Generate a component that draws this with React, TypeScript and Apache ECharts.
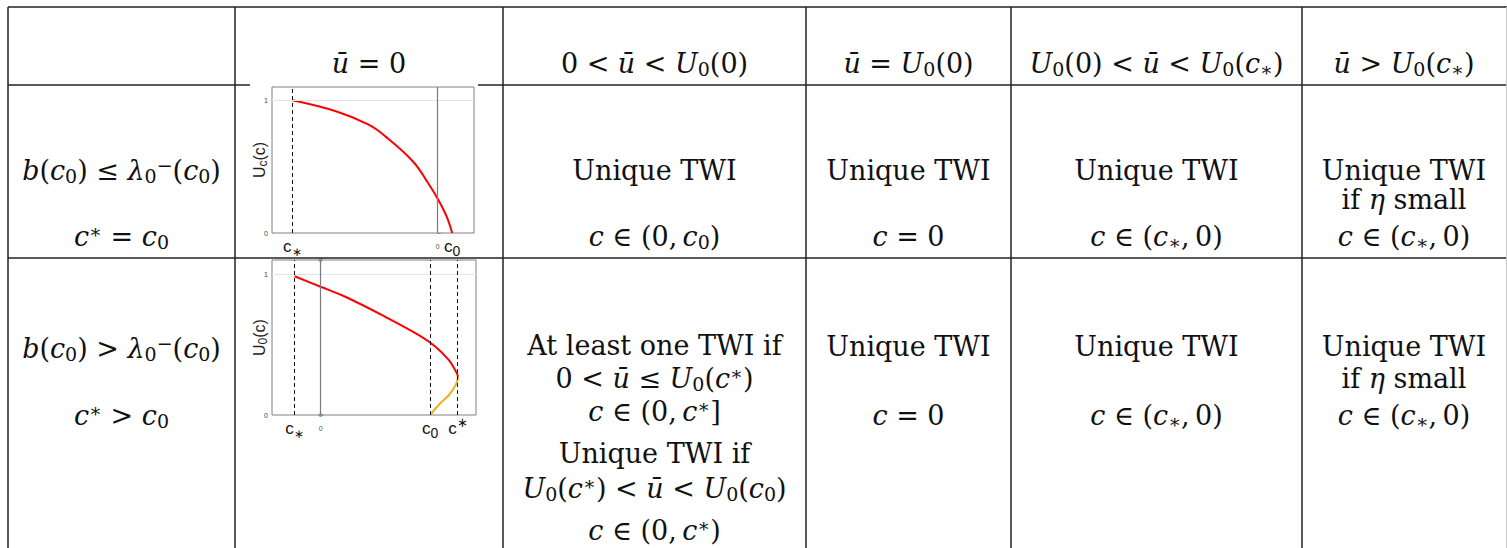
import React, { useEffect, useRef } from "react";
import * as echarts from "echarts";

const SERIF = "DejaVu Serif";
const SANS = "Liberation Sans";

// ---------- table geometry ----------
const colLines = [8, 235, 503, 806, 1011, 1302];
const rowLines = [7, 85, 258];
const colCenters = [121.5, 369, 654.5, 908.5, 1156.5, 1404];
const headerY = 63;

// ---------- table texts ----------
const headerLabels = [
  "{i|ū}{n| = 0}",
  "{n|0 < }{i|ū}{n| < }{i|U}{sb|0}{n|(0)}",
  "{i|ū}{n| = }{i|U}{sb|0}{n|(0)}",
  "{i|U}{sb|0}{n|(0) < }{i|ū}{n| < }{i|U}{sb|0}{n|(}{i|c}{sb|∗}{n|)}",
  "{i|ū}{n| > }{i|U}{sb|0}{n|(}{i|c}{sb|∗}{n|)}",
];
const row1Condition = [
  "{i|b}{n|(}{i|c}{sb|0}{n|) ≤ }{i|λ}{sb|0}{sp|−}{n|(}{i|c}{sb|0}{n|)}",
  "{i|c}{sp|∗}{n| = }{i|c}{sb|0}",
];
const row2Condition = [
  "{i|b}{n|(}{i|c}{sb|0}{n|) > }{i|λ}{sb|0}{sp|−}{n|(}{i|c}{sb|0}{n|)}",
  "{i|c}{sp|∗}{n| > }{i|c}{sb|0}",
];
const row1Cells = [
  ["{n|Unique TWI}", "{i|c}{n| ∈ (0,\u2009}{i|c}{sb|0}{n|)}"],
  ["{n|Unique TWI}", "{i|c}{n| = 0}"],
  ["{n|Unique TWI}", "{i|c}{n| ∈ (}{i|c}{sb|∗}{n|,\u20090)}"],
  ["{n|Unique TWI}", "{n|if }{i|η}{n| small}", "{i|c}{n| ∈ (}{i|c}{sb|∗}{n|,\u20090)}"],
];
const row2Cells = [
  [
    "{n|At least one TWI if}",
    "{n|0 < }{i|ū}{n| ≤ }{i|U}{sb|0}{n|(}{i|c}{sp|∗}{n|)}",
    "{i|c}{n| ∈ (0,\u2009}{i|c}{sp|∗}{n|]}",
    "{n|Unique TWI if}",
    "{i|U}{sb|0}{n|(}{i|c}{sp|∗}{n|) < }{i|ū}{n| < }{i|U}{sb|0}{n|(}{i|c}{sb|0}{n|)}",
    "{i|c}{n| ∈ (0,\u2009}{i|c}{sp|∗}{n|)}",
  ],
  ["{n|Unique TWI}", "{i|c}{n| = 0}"],
  ["{n|Unique TWI}", "{i|c}{n| ∈ (}{i|c}{sb|∗}{n|,\u20090)}"],
  ["{n|Unique TWI}", "{n|if }{i|η}{n| small}", "{i|c}{n| ∈ (}{i|c}{sb|∗}{n|,\u20090)}"],
];
const row1LineY = { 2: [170, 236], 3: [170, 199, 236] } as Record<number, number[]>;
const row2LineY = { 2: [346, 415], 3: [346, 378, 415], 6: [345, 378, 411, 453, 488, 530] } as Record<number, number[]>;

// ---------- chart 1 (c* = c0) ----------
const c1XMin = -1.14;
const c1XMax = 0.25;
const c1RedX = [-1.0, -0.7, -0.475, -0.36, -0.17, -0.065, 0.005, 0.062, 0.1];
const c1RedY = [1.0, 0.917, 0.816, 0.728, 0.539, 0.375, 0.249, 0.123, 0.0];
const c1MarkValues = [-1.0, 0, 0.1];
const c1MarkLabels = ["{c|c}{s|∗}", "{z|0}", "{c|c}{b|0}"];

// ---------- chart 2 (c* > c0) ----------
const c2XMin = -0.443;
const c2XMax = 1.417;
const c2RedX = [-0.237, 0, 0.225, 0.59, 0.896, 1.048, 1.17, 1.215, 1.243, 1.253];
const c2RedY = [0.985, 0.91, 0.839, 0.697, 0.567, 0.485, 0.39, 0.335, 0.295, 0.272];
const c2OrangeX = [1.253, 1.245, 1.222, 1.17, 1.091, 1.0];
const c2OrangeY = [0.272, 0.238, 0.2, 0.142, 0.083, 0.0];
const c2MarkValues = [-0.237, 0, 1.0, 1.253];
const c2MarkLabels = ["{c|c}{s|∗}", "{z|0}", "{c|c}{b|0}", "{c|c}{p|∗}"];

const yMin = 0;
const yMax = 1.1;
const yTickValues = [0, 1];

const RICH: any = {
  n: { fontFamily: SERIF, fontSize: 27, lineHeight: 30, fill: "#111" },
  i: { fontFamily: SERIF, fontStyle: "italic", fontSize: 27, lineHeight: 30, fill: "#111" },
  sb: { fontFamily: SERIF, fontSize: 19, lineHeight: 16, verticalAlign: "bottom", fill: "#111" },
  sp: { fontFamily: SERIF, fontSize: 19, lineHeight: 14, verticalAlign: "top", fill: "#111" },
};

function textEl(text: string, x: number, y: number) {
  return {
    type: "text",
    x,
    y,
    silent: true,
    z: 100,
    style: {
      text,
      rich: RICH,
      fontFamily: SERIF,
      fontSize: 27,
      fill: "#111",
      align: "center",
      verticalAlign: "middle",
      textAlign: "center",
      textVerticalAlign: "middle",
    },
  };
}

function lineEl(x1: number, y1: number, x2: number, y2: number, stroke = "#222", w = 1.5) {
  return {
    type: "line",
    silent: true,
    z: 50,
    shape: { x1, y1, x2, y2 },
    style: { stroke, lineWidth: w },
  };
}

const labelRich = {
  c: { fontFamily: SANS, fontSize: 17, color: "#111", lineHeight: 24 },
  s: { fontFamily: SANS, fontSize: 12, color: "#111", lineHeight: 14, verticalAlign: "bottom" },
  b: { fontFamily: SANS, fontSize: 14, color: "#111", lineHeight: 10, verticalAlign: "bottom" },
  p: { fontFamily: SANS, fontSize: 13, color: "#111", lineHeight: 14, verticalAlign: "top" },
  z: { fontFamily: SANS, fontSize: 7, color: "#555", lineHeight: 24 },
};

const nameRich = () => ({
  u: { fontFamily: SANS, fontSize: 16, color: "#222", lineHeight: 20 },
  s: { fontFamily: SANS, fontSize: 12, color: "#222", lineHeight: 10, verticalAlign: "bottom" },
});

function pickLabel(values: number[], labels: string[]) {
  return (v: number) => {
    for (let k = 0; k < values.length; k++) {
      if (Math.abs(values[k] - v) < 1e-6) return labels[k];
    }
    return "";
  };
}

function xAxisFor(gridIndex: number, min: number, max: number, values: number[], labels: string[]) {
  return {
    gridIndex,
    type: "value",
    min,
    max,
    axisLine: { show: false },
    axisTick: { show: false },
    splitLine: { show: false },
    axisLabel: {
      customValues: values,
      formatter: pickLabel(values, labels),
      rich: labelRich,
      margin: 1,
      showMinLabel: true,
      showMaxLabel: true,
    },
  };
}

function yAxisFor(gridIndex: number, sub: string) {
  return {
    gridIndex,
    type: "value",
    min: yMin,
    max: yMax,
    axisLine: { show: false },
    splitLine: { show: false },
    axisTick: { show: true, inside: true, length: 3, customValues: yTickValues, lineStyle: { color: "#888" } },
    axisLabel: { customValues: yTickValues, fontSize: 7, color: "#444", margin: 4, fontFamily: SANS },
    name: `{u|U}{s|${sub}}{u|(c)}`,
    nameLocation: "middle",
    nameGap: 3,
    nameMoveOverlap: false,
    nameTextStyle: { rich: nameRich(), fontFamily: SANS, fontSize: 16, color: "#222" },
  };
}

const zip = (xs: number[], ys: number[]) => xs.map((x, k) => [x, ys[k]]);

const dashed = { color: "#111", type: [4, 3], width: 1 };
const zeroLine = { color: "#7a7a7a", type: "solid", width: 1.2 };
const oneLine = { color: "#e4e4e4", type: "solid", width: 1 };

export default function App() {
  const ref = useRef<HTMLDivElement>(null);

  useEffect(() => {
    if (!ref.current) return;
    const chart = echarts.init(ref.current, undefined, { renderer: "svg" });

    const graphic: any[] = [];
    graphic.push(lineEl(8, rowLines[0], 1507, rowLines[0]));
    graphic.push(lineEl(8, rowLines[1], 250, rowLines[1]));
    graphic.push(lineEl(478, rowLines[1], 1507, rowLines[1]));
    graphic.push(lineEl(8, rowLines[2], 1507, rowLines[2]));
    colLines.forEach((x) => graphic.push(lineEl(x, rowLines[0], x, 548)));
    graphic.push(lineEl(1506.5, rowLines[0], 1506.5, 548, "#c8c8c8", 1));

    headerLabels.forEach((t, k) => graphic.push(textEl(t, colCenters[k + 1], headerY)));
    graphic.push(textEl(row1Condition[0], colCenters[0], 170));
    graphic.push(textEl(row1Condition[1], colCenters[0], 236));
    graphic.push(textEl(row2Condition[0], colCenters[0], 348));
    graphic.push(textEl(row2Condition[1], colCenters[0], 415));
    row1Cells.forEach((lines, k) => {
      const ys = row1LineY[lines.length];
      lines.forEach((t, j) => graphic.push(textEl(t, colCenters[k + 2], ys[j])));
    });
    row2Cells.forEach((lines, k) => {
      const ys = row2LineY[lines.length];
      lines.forEach((t, j) => graphic.push(textEl(t, colCenters[k + 2], ys[j])));
    });

    const mk = (data: any[]) => ({
      silent: true,
      symbol: ["none", "none"],
      label: { show: false },
      data,
    });

    chart.setOption({
      animation: false,
      backgroundColor: "#fff",
      grid: [
        { left: 272, top: 87, width: 202, height: 146, show: true, borderColor: "#808080", borderWidth: 1, backgroundColor: "#fff" },
        { left: 272, top: 260, width: 204, height: 155, show: true, borderColor: "#808080", borderWidth: 1, backgroundColor: "#fff" },
      ],
      xAxis: [
        xAxisFor(0, c1XMin, c1XMax, c1MarkValues, c1MarkLabels),
        xAxisFor(1, c2XMin, c2XMax, c2MarkValues, c2MarkLabels),
      ],
      yAxis: [yAxisFor(0, "c"), yAxisFor(1, "0")],
      series: [
        {
          type: "line",
          xAxisIndex: 0,
          yAxisIndex: 0,
          data: [],
          z: 1,
          markLine: mk([
            { yAxis: 1, lineStyle: oneLine },
            { xAxis: c1MarkValues[0], lineStyle: dashed },
            { xAxis: c1MarkValues[1], lineStyle: zeroLine },
          ]),
        },
        {
          type: "line",
          xAxisIndex: 0,
          yAxisIndex: 0,
          data: zip(c1RedX, c1RedY),
          showSymbol: false,
          smooth: 0.4,
          z: 3,
          lineStyle: { color: "#ff0000", width: 2 },
        },
        {
          type: "line",
          xAxisIndex: 1,
          yAxisIndex: 1,
          data: [],
          z: 1,
          markLine: mk([
            { yAxis: 1, lineStyle: oneLine },
            { xAxis: c2MarkValues[0], lineStyle: dashed },
            { xAxis: c2MarkValues[1], lineStyle: zeroLine },
            { xAxis: c2MarkValues[2], lineStyle: dashed },
            { xAxis: c2MarkValues[3], lineStyle: dashed },
          ]),
        },
        {
          type: "scatter",
          xAxisIndex: 1,
          yAxisIndex: 1,
          data: [[0, yMin], [0, yMax]],
          symbolSize: 4,
          itemStyle: { color: "#5b8fc7" },
          z: 2,
          silent: true,
        },
        {
          type: "line",
          xAxisIndex: 1,
          yAxisIndex: 1,
          data: zip(c2RedX, c2RedY),
          showSymbol: false,
          smooth: 0.4,
          z: 3,
          lineStyle: { color: "#ff0000", width: 2 },
        },
        {
          type: "line",
          xAxisIndex: 1,
          yAxisIndex: 1,
          data: zip(c2OrangeX, c2OrangeY),
          showSymbol: false,
          smooth: 0.4,
          z: 3,
          lineStyle: { color: "#EDB120", width: 2 },
        },
      ],
      graphic,
    });

    return () => chart.dispose();
  }, []);

  return (
    <div
      ref={ref}
      style={{ position: "fixed", left: 0, top: 0, width: 1507, height: 548, background: "#fff" }}
    />
  );
}
